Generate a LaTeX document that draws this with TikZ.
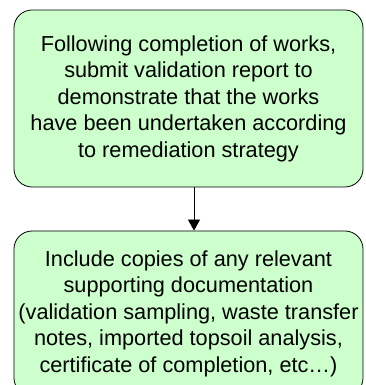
\documentclass[tikz,border=0pt]{standalone}
\usepackage{fontspec}
\setmainfont{Liberation Sans}
\usetikzlibrary{arrows.meta}
\definecolor{boxgreen}{RGB}{204,255,204}

\begin{document}
\begin{tikzpicture}[x=1pt,y=1pt,
    stage/.style={draw, fill=boxgreen, line width=0.8pt, rounded corners=18pt,
      minimum width=349pt, inner sep=0pt, align=center,
      font=\fontsize{21.7}{26.5}\selectfont},
    link/.style={-{Triangle[width=12pt,length=11pt]}, line width=0.8pt}]
          \useasboundingbox (0,0) rectangle (365,385); %
          % validation report
          \node[stage, minimum height=177pt] (report) at (188.5,286.5)
            {Following completion of works,\\ submit validation report to\\
             demonstrate that the works\\ have been undertaken according\\
             to remediation strategy};%
          % supporting documents
          \node[stage, minimum height=165pt] (docs) at (188.5,71.5)
            {Include copies of any relevant\\ supporting documentation\\
             (validation sampling, waste transfer\\ notes, imported topsoil analysis,\\
             certificate of completion, etc\ldots)};%
          \draw[link] ([xshift=5.5pt]report.south) -- ([xshift=5.5pt]docs.north);%
    \end{tikzpicture}
\end{document}
